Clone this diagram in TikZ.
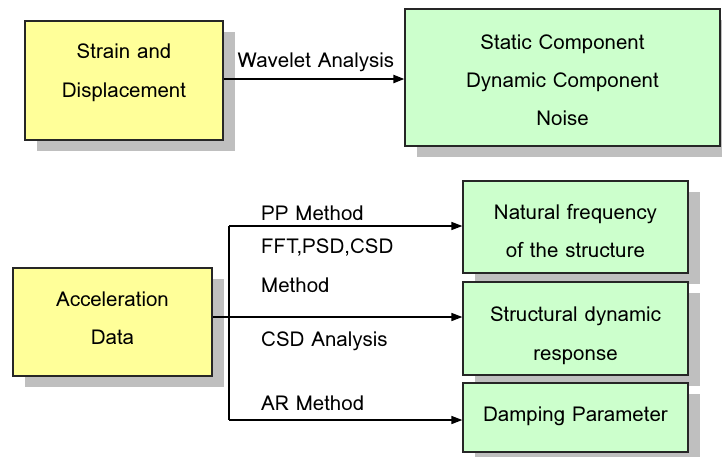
\documentclass[tikz,border=0pt]{standalone}
\usepackage{fontspec}
\setmainfont{Loma}
\usetikzlibrary{arrows.meta,shadows}
\definecolor{yel}{HTML}{FFFF99}
\definecolor{grn}{HTML}{CCFFCC}
\begin{document}
\begin{tikzpicture}[x=1pt,y=-1pt,
  box/.style={draw=black!85,line width=1.2pt,inner sep=0pt,
    drop shadow={shadow xshift=12pt,shadow yshift=-11pt,fill=black!25,opacity=1}},
  ybox/.style={box,fill=yel},
  gbox/.style={box,fill=grn},
  txt/.style={align=center,inner sep=0pt,font=\fontsize{20.5}{38}\selectfont},
  conn/.style={line width=1.4pt,-{Triangle[length=11pt,width=8pt]}},
  lbl/.style={anchor=west,inner sep=0pt,font=\fontsize{20.5}{24}\selectfont}]
\useasboundingbox[fill=white] (0,0) rectangle (722,456);
\node[ybox,minimum width=198pt,minimum height=119pt] (sd) at (124,80.5) {};
\node[txt,font=\fontsize{20.5}{39}\selectfont] (sdt) at (124,72.5) {Strain and\\Displacement};
\node[gbox,minimum width=315pt,minimum height=137pt] (comp) at (562.5,77.5) {};
\node[txt] (compt) at (562.5,80.5) {Static Component\\Dynamic Component\\Noise};
\node[ybox,minimum width=199pt,minimum height=108pt] (acc) at (112.5,322) {};
\node[txt] (acct) at (112.5,318) {Acceleration\\Data};
\node[gbox,minimum width=225pt,minimum height=92pt] (nat) at (575.5,227) {};
\node[txt] (natt) at (575.5,231) {Natural frequency\\of the structure};
\node[gbox,minimum width=225pt,minimum height=93pt] (sdr) at (575.5,328.5) {};
\node[txt,font=\fontsize{20.5}{39}\selectfont] (sdrt) at (575.5,335.5) {Structural dynamic\\response};
\node[gbox,minimum width=225pt,minimum height=69pt] (damp) at (575.5,417.5) {};
\node[txt] (dampt) at (575.5,416.5) {Damping Parameter};
\draw[conn,line width=2.2pt] (sd.east |- 0,79) -- (comp.west |- 0,79);
\node[inner sep=0pt,font=\fontsize{20.5}{24}\selectfont] (wl) at (316,62) {Wavelet Analysis};
\coordinate (j) at (229,317);
\coordinate (jt) at (229,226);
\coordinate (jb) at (229,420);
\draw[line width=1.4pt] (jt) -- (jb);
\draw[line width=1.4pt] (acc.east |- j) -- (j);
\draw[conn] (jt) -- (nat.west |- jt);
\draw[conn] (j) -- (sdr.west |- j);
\draw[conn] (jb) -- (damp.west |- jb);
\node[lbl] (pp) at (261,213) {PP Method};
\node[lbl] (fft) at (261,248) {FFT,PSD,CSD};
\node[lbl] (meth) at (261,285) {Method};
\node[lbl] (csd) at (261,341) {CSD Analysis};
\node[lbl] (ar) at (261,403) {AR Method};
\end{tikzpicture}
\end{document}
